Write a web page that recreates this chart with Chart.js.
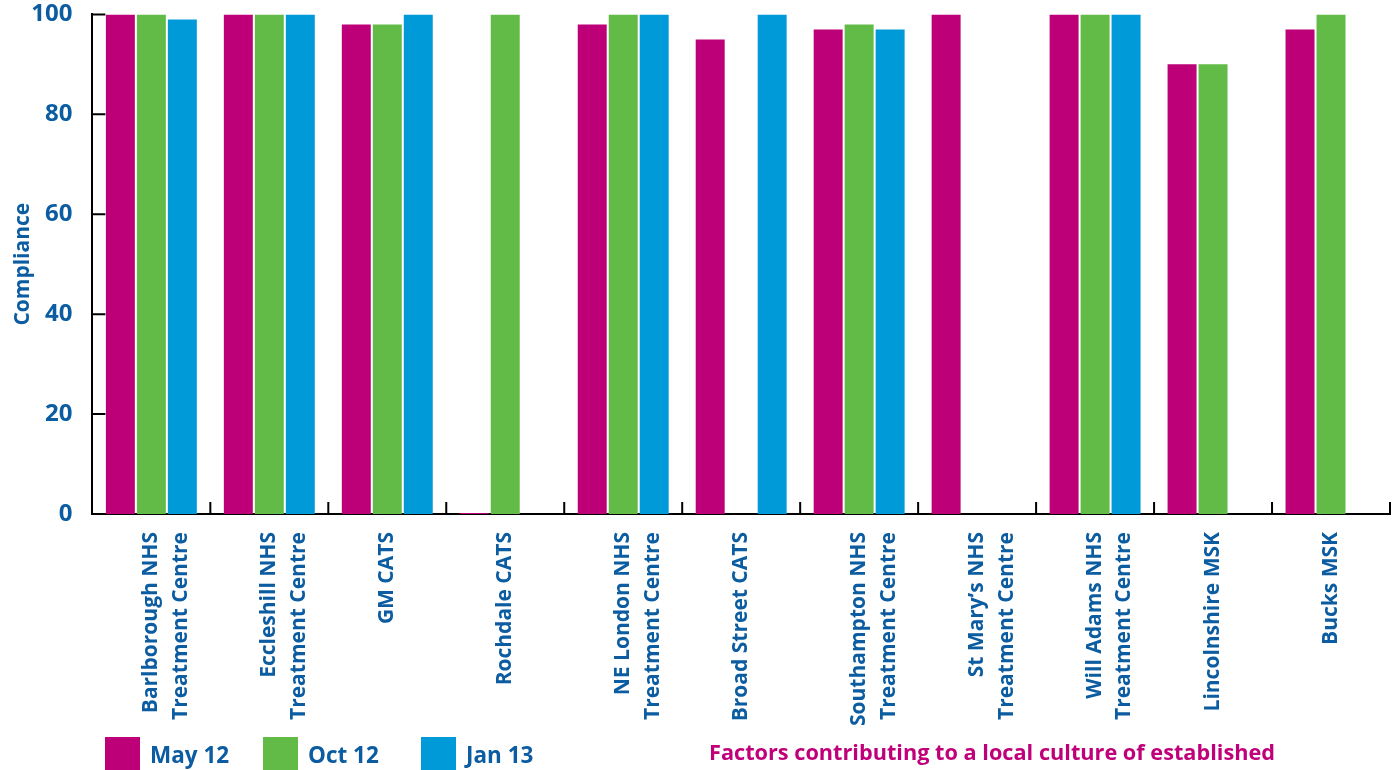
<!DOCTYPE html>
<html>
<head>
<meta charset="utf-8">
<script src="https://cdn.jsdelivr.net/npm/chart.js@4/dist/chart.umd.min.js"></script>
<style>
    body { margin: 0; background: #fff; }
    #wrap { position: relative; width: 1399px; height: 770px; overflow: hidden; }
    #chart { position: absolute; left: 0; top: -12px; }
    #legend { position: absolute; left: 105px; top: 737px; display: flex; }
    .item { width: 158px; display: flex; align-items: center; }
    .swatch { width: 35px; height: 35px; margin-right: 10px; }
    .item span, #note { font: bold 22.5px "Open Sans", sans-serif; color: #0b5ca0; }
    #note { position: absolute; left: 709px; top: 737px; color: #c0007a; font-size: 21.7px; }
</style>
</head>
<body>
<div id="wrap">
    <canvas id="chart" width="1399" height="782"></canvas>
    <div id="legend"></div>
    <div id="note">Factors contributing to a local culture of established</div>
</div>
<script>
const categories = [
    ['Barlborough NHS', 'Treatment Centre'],
    ['Eccleshill NHS', 'Treatment Centre'],
    'GM CATS',
    'Rochdale CATS',
    ['NE London NHS', 'Treatment Centre'],
    'Broad Street CATS',
    ['Southampton NHS', 'Treatment Centre'],
    ['St Mary\u2019s NHS', 'Treatment Centre'],
    ['Will Adams NHS', 'Treatment Centre'],
    'Lincolnshire MSK',
    'Bucks MSK'
];
const seriesNames = ['May 12', 'Oct 12', 'Jan 13'];
const may12 = [100, 100, 98, 0, 98, 95, 97, 100, 100, 90, 97];
const oct12 = [100, 100, 98, 100, 100, null, 98, null, 100, 90, 100];
const jan13 = [99, 100, 100, null, 100, 100, 97, null, 100, null, null];
const yTicks = [0, 20, 40, 60, 80, 100];

const colors = ['#be0078', '#62bb46', '#009ad8'];
const textBlue = '#0b5ca0';
const fontFamily = '"Open Sans", sans-serif';

// Small tick marks pointing into the plot area
const innerTicks = {
    id: 'innerTicks',
    afterDatasetsDraw(chart) {
        const { ctx, chartArea, scales: { x, y } } = chart;
        ctx.save();
        ctx.strokeStyle = '#000';
        ctx.lineWidth = 2;
        ctx.beginPath();
        yTicks.forEach(function (v) {
            const py = y.getPixelForValue(v);
            ctx.moveTo(chartArea.left, py);
            ctx.lineTo(chartArea.left + 13, py);
        });
        for (let i = 1; i <= categories.length; i++) {
            const px = i === categories.length
                ? chartArea.right
                : (x.getPixelForValue(i - 1) + x.getPixelForValue(i)) / 2;
            ctx.moveTo(px, chartArea.bottom);
            ctx.lineTo(px, chartArea.bottom - 12);
        }
        ctx.stroke();
        ctx.restore();
    }
};

const datasets = [may12, oct12, jan13].map(function (data, i) {
    return {
        label: seriesNames[i],
        data: data,
        backgroundColor: colors[i],
        borderWidth: 0,
        minBarLength: i === 0 ? 1 : 0,
        categoryPercentage: 0.788,
        barPercentage: 0.935
    };
});

// HTML legend
const legendEl = document.getElementById('legend');
seriesNames.forEach(function (name, i) {
    const item = document.createElement('div');
    item.className = 'item';
    item.innerHTML = '<div class="swatch" style="background:' + colors[i] + '"></div><span>' + name + '</span>';
    legendEl.appendChild(item);
});

new Chart(document.getElementById('chart'), {
    type: 'bar',
    data: { labels: categories, datasets: datasets },
    options: {
        responsive: false,
        animation: false,
        layout: { padding: { left: 6, right: 9, top: 0, bottom: 34 } },
        plugins: {
            legend: { display: false },
            tooltip: { enabled: false }
        },
        scales: {
            x: {
                grid: { display: false },
                border: { display: true, color: '#000', width: 2 },
                ticks: {
                    autoSkip: false,
                    minRotation: 90,
                    maxRotation: 90,
                    padding: 10,
                    color: textBlue,
                    font: { family: fontFamily, size: 21, weight: 'bold', lineHeight: 1.4 }
                }
            },
            y: {
                min: 0,
                max: 100,
                grid: { display: false },
                border: { display: true, color: '#000', width: 2 },
                afterBuildTicks: function (scale) {
                    scale.ticks = yTicks.map(function (v) { return { value: v }; });
                },
                ticks: {
                    padding: 12,
                    color: textBlue,
                    font: { family: fontFamily, size: 24, weight: 'bold' }
                },
                title: {
                    display: true,
                    text: 'Compliance',
                    color: textBlue,
                    padding: { top: 4, bottom: -16 },
                    font: { family: fontFamily, size: 21, weight: 'bold' }
                }
            }
        }
    },
    plugins: [innerTicks]
});
</script>
</body>
</html>
